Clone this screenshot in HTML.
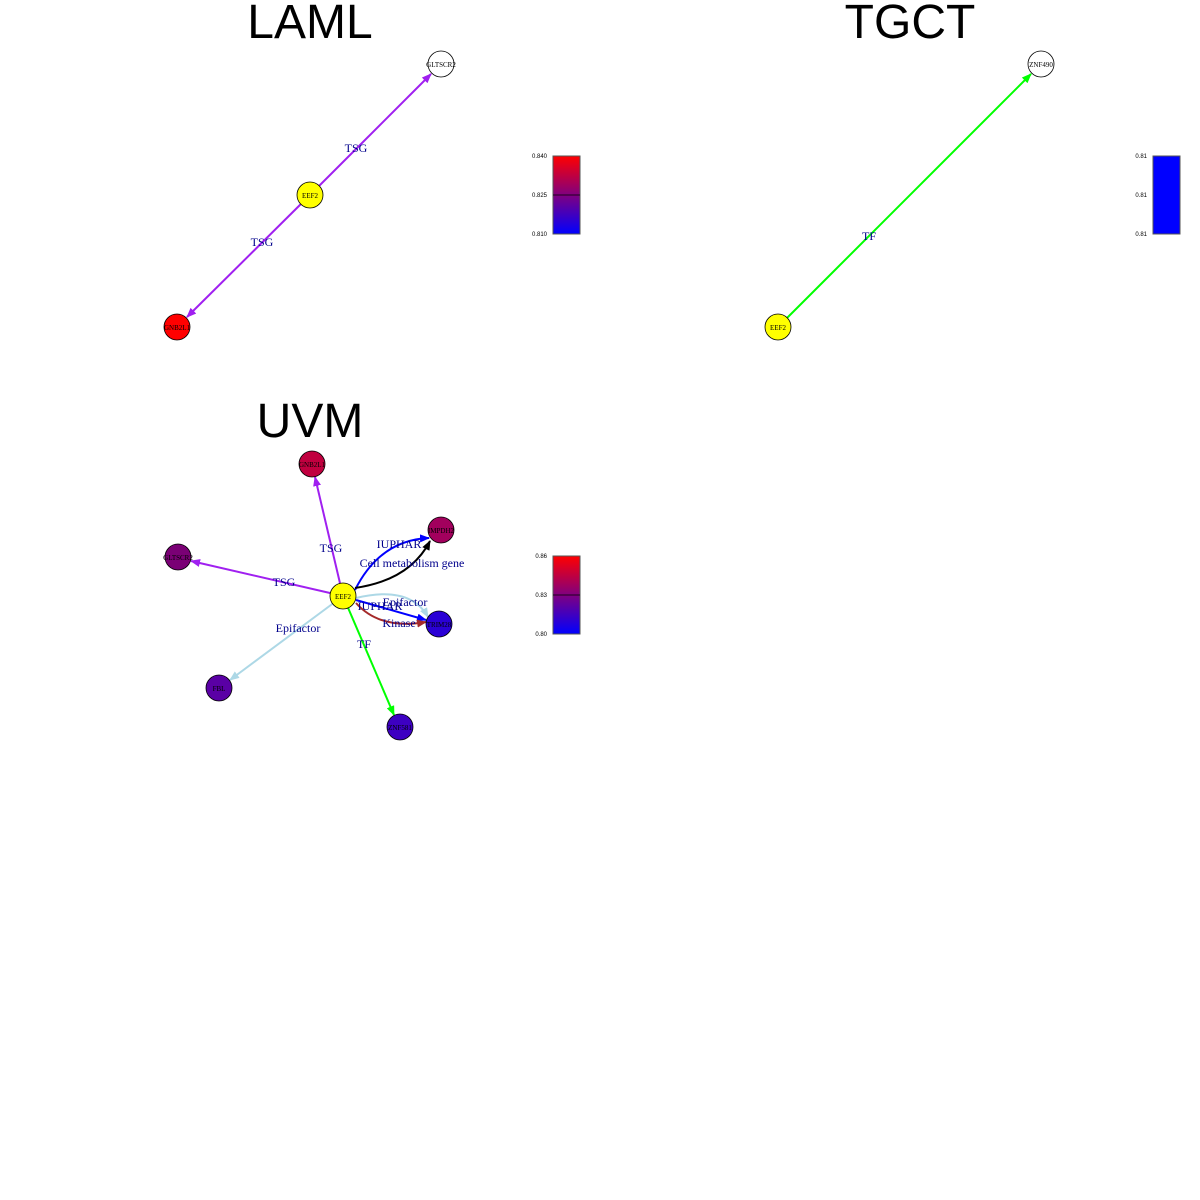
<!DOCTYPE html>
<html><head><style>body{margin:0;background:#fff}svg{display:block}</style></head><body>
<svg width="1200" height="1200" viewBox="0 0 1200 1200" xmlns="http://www.w3.org/2000/svg" font-family="Liberation Serif, serif">
<defs>
<linearGradient id="g" x1="0" y1="1" x2="0" y2="0"><stop offset="0" stop-color="#0000ff"/><stop offset="0.5" stop-color="#800080"/><stop offset="1" stop-color="#ff0000"/></linearGradient>
<marker id="ap" markerWidth="10" markerHeight="8" refX="9" refY="4" orient="auto" markerUnits="userSpaceOnUse"><path d="M0,0L10,4L0,8z" fill="#a020f0"/></marker>
<marker id="ag" markerWidth="10" markerHeight="8" refX="9" refY="4" orient="auto" markerUnits="userSpaceOnUse"><path d="M0,0L10,4L0,8z" fill="#00ff00"/></marker>
<marker id="alb" markerWidth="10" markerHeight="8" refX="9" refY="4" orient="auto" markerUnits="userSpaceOnUse"><path d="M0,0L10,4L0,8z" fill="#add8e6"/></marker>
<marker id="ab" markerWidth="10" markerHeight="8" refX="9" refY="4" orient="auto" markerUnits="userSpaceOnUse"><path d="M0,0L10,4L0,8z" fill="#0000ff"/></marker>
<marker id="ak" markerWidth="10" markerHeight="8" refX="9" refY="4" orient="auto" markerUnits="userSpaceOnUse"><path d="M0,0L10,4L0,8z" fill="#000"/></marker>
<marker id="ar" markerWidth="10" markerHeight="8" refX="9" refY="4" orient="auto" markerUnits="userSpaceOnUse"><path d="M0,0L10,4L0,8z" fill="#a52a2a"/></marker>
</defs>
<g font-family="Liberation Sans, sans-serif" font-size="48" text-anchor="middle">
<text x="310" y="38">LAML</text><text x="910" y="38">TGCT</text><text x="310" y="437">UVM</text>
</g>
<!-- LAML -->
<line x1="310" y1="195" x2="431" y2="74" stroke="#a020f0" stroke-width="2" marker-end="url(#ap)"/>
<line x1="310" y1="195" x2="187" y2="317" stroke="#a020f0" stroke-width="2" marker-end="url(#ap)"/>
<g font-size="12" fill="#00008b" text-anchor="middle"><text x="356" y="152">TSG</text><text x="262" y="246">TSG</text></g>
<g stroke="#000" stroke-width="0.8" font-size="7" text-anchor="middle">
<circle cx="441" cy="64" r="13" fill="#fff"/><circle cx="310" cy="195" r="13" fill="#ffff00"/><circle cx="177" cy="327" r="13" fill="#ff0000"/>
</g>
<g font-size="7" text-anchor="middle"><text x="441" y="67">GLTSCR2</text><text x="310" y="198">EEF2</text><text x="177" y="330">GNB2L1</text></g>
<rect x="553" y="156" width="27" height="78" fill="url(#g)" stroke="#555"/><line x1="553" y1="195" x2="580" y2="195" stroke="#000" stroke-width="0.7"/>
<g font-family="Liberation Sans, sans-serif" font-size="6" text-anchor="end"><text x="547" y="158">0.840</text><text x="547" y="197">0.825</text><text x="547" y="236">0.810</text></g>
<!-- TGCT -->
<line x1="778" y1="327" x2="1031" y2="74" stroke="#00ff00" stroke-width="2" marker-end="url(#ag)"/>
<text x="869" y="240" font-size="12" fill="#00008b" text-anchor="middle">TF</text>
<circle cx="1041" cy="64" r="13" fill="#fff" stroke="#000" stroke-width="0.8"/><circle cx="778" cy="327" r="13" fill="#ffff00" stroke="#000" stroke-width="0.8"/>
<g font-size="7" text-anchor="middle"><text x="1041" y="67">ZNF490</text><text x="778" y="330">EEF2</text></g>
<rect x="1153" y="156" width="27" height="78" fill="#0000ff" stroke="#555"/>
<g font-family="Liberation Sans, sans-serif" font-size="6" text-anchor="end"><text x="1147" y="158">0.81</text><text x="1147" y="197">0.81</text><text x="1147" y="236">0.81</text></g>
<!-- UVM -->
<g fill="none" stroke-width="2">
<line x1="343" y1="596" x2="315" y2="477" stroke="#a020f0" marker-end="url(#ap)"/>
<line x1="343" y1="596" x2="191" y2="561" stroke="#a020f0" marker-end="url(#ap)"/>
<line x1="343" y1="596" x2="230" y2="680" stroke="#add8e6" marker-end="url(#alb)"/>
<line x1="343" y1="596" x2="394" y2="715" stroke="#00ff00" marker-end="url(#ag)"/>
<path d="M355,590 Q380,540 429,538" stroke="#0000ff" marker-end="url(#ab)"/>
<path d="M355,588 Q410,580 430,541" stroke="#000" marker-end="url(#ak)"/>
<path d="M356,598 Q410,585 428,617" stroke="#add8e6" marker-end="url(#alb)"/>
<line x1="356" y1="600" x2="426" y2="620" stroke="#0000ff" marker-end="url(#ab)"/>
<path d="M356,603 Q380,630 426,622" stroke="#a52a2a" marker-end="url(#ar)"/>
</g>
<g font-size="12" fill="#00008b" text-anchor="middle">
<text x="331" y="552">TSG</text><text x="284" y="586">TSG</text><text x="298" y="632">Epifactor</text><text x="364" y="648">TF</text>
<text x="399" y="548">IUPHAR</text><text x="412" y="567">Cell metabolism gene</text><text x="405" y="606">Epifactor</text><text x="380" y="610">IUPHAR</text><text x="399" y="627">Kinase</text>
</g>
<g stroke="#000" stroke-width="0.8">
<circle cx="312" cy="464" r="13" fill="#c0003f"/><circle cx="178" cy="557" r="13" fill="#7a0075"/><circle cx="441" cy="530" r="13" fill="#a2005d"/>
<circle cx="343" cy="596" r="13" fill="#ffff00"/><circle cx="439" cy="624" r="13" fill="#2a00d5"/><circle cx="219" cy="688" r="13" fill="#5a00a5"/><circle cx="400" cy="727" r="13" fill="#3d00c2"/>
</g>
<g font-size="7" text-anchor="middle">
<text x="312" y="467">GNB2L1</text><text x="178" y="560">GLTSCR2</text><text x="441" y="533">IMPDH2</text><text x="343" y="599">EEF2</text><text x="439" y="627">TRIM28</text><text x="219" y="691">FBL</text><text x="400" y="730">ZNF581</text>
</g>
<rect x="553" y="556" width="27" height="78" fill="url(#g)" stroke="#555"/><line x1="553" y1="595" x2="580" y2="595" stroke="#000" stroke-width="0.7"/>
<g font-family="Liberation Sans, sans-serif" font-size="6" text-anchor="end"><text x="547" y="558">0.86</text><text x="547" y="597">0.83</text><text x="547" y="636">0.80</text></g>
</svg>
</body></html>
